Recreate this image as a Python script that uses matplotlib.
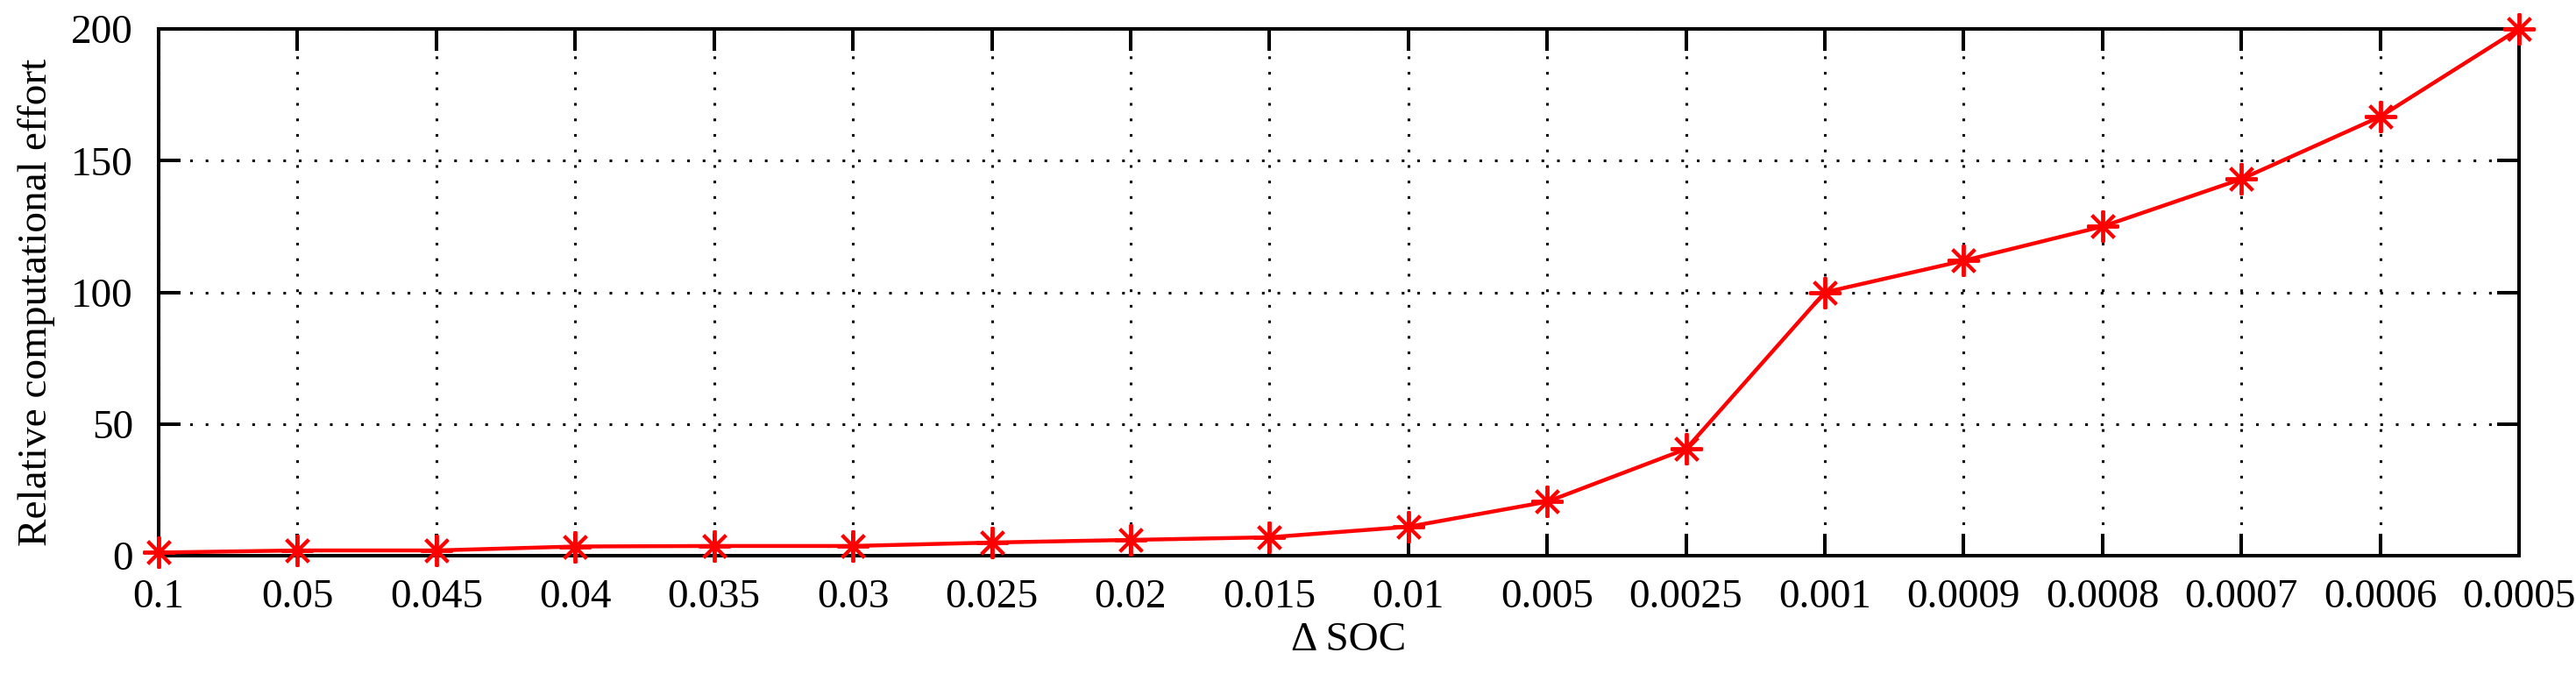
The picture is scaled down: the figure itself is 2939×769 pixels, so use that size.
import numpy as np
import matplotlib
matplotlib.use('Agg')
import matplotlib.pyplot as plt

# step sizes (x categories) and relative effort
delta_soc = ['0.1', '0.05', '0.045', '0.04', '0.035', '0.03', '0.025', '0.02',
             '0.015', '0.01', '0.005', '0.0025', '0.001', '0.0009', '0.0008',
             '0.0007', '0.0006', '0.0005']
effort = [1.2, 2.0, 2.0, 3.5, 3.7, 3.7, 5.0, 6.0, 7.0, 11.0, 20.5, 40.5,
          100.0, 112.0, 125.0, 143.0, 166.7, 200.0]
y_ticks = [0, 50, 100, 150, 200]

plt.rcParams['font.family'] = ['Liberation Serif', 'DejaVu Serif']
plt.rcParams['font.size'] = 34

fig = plt.figure(figsize=(29.39, 7.69), dpi=100)
ax = fig.add_axes([0.0616, 0.1755, 0.9163, 0.7816])

x = np.arange(len(delta_soc))
ax.plot(x, effort, color='red', linewidth=3.2, marker=(8, 2, 0),
        markersize=26, markeredgewidth=2.8, markeredgecolor='red', zorder=5,
        clip_on=False)

ax.set_xlim(0, len(delta_soc) - 1)
ax.set_ylim(0, 200)
ax.set_xticks(x)
ax.set_xticklabels(delta_soc)
ax.set_yticks(y_ticks)

# dotted grid, MATLAB style
ax.grid(True, color='black', linestyle=(0, (1, 4.8)), linewidth=2.2)

for sp in ax.spines.values():
    sp.set_linewidth(2.9)

ax.tick_params(axis='both', direction='in', length=18, width=2.9,
               top=True, right=True)
ax.tick_params(axis='x', pad=19)
ax.tick_params(axis='y', pad=21)

ax.set_xlabel('\u0394 SOC')
ax.set_ylabel('Relative computational effort')
ax.xaxis.set_label_coords(0.504, -0.125)
# rotated label: this coordinate is its right-hand edge
ax.yaxis.set_label_coords(-0.0438, 0.481)

plt.savefig('out.png', dpi=100)
plt.close()
